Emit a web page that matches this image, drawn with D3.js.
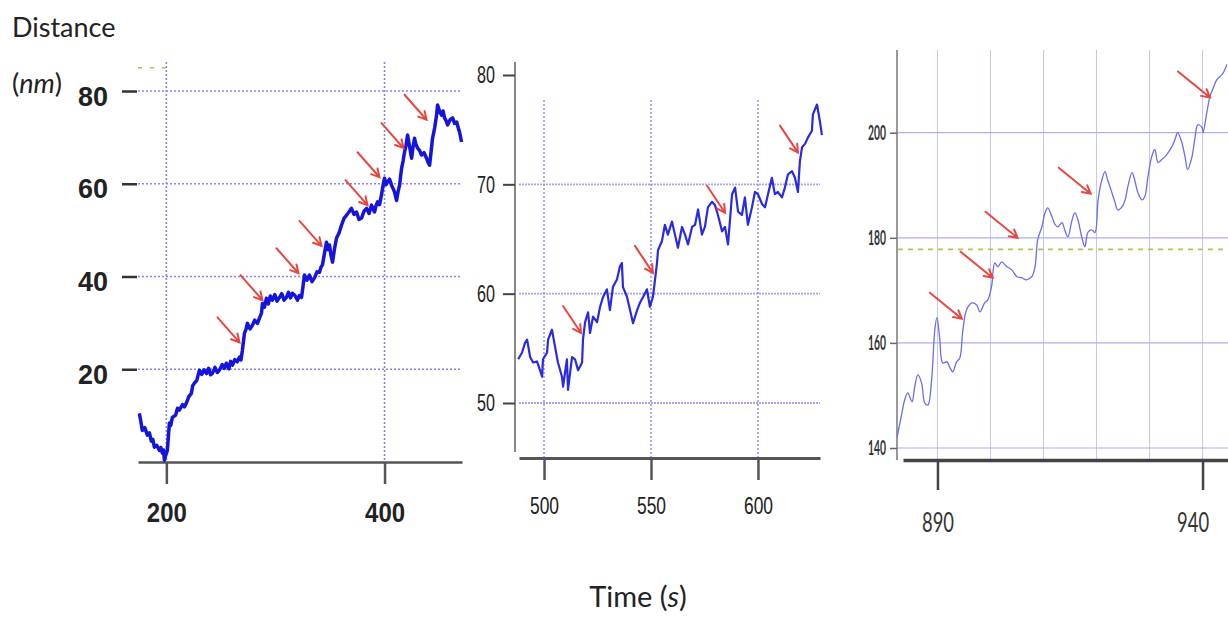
<!DOCTYPE html>
<html>
<head>
<meta charset="utf-8">
<script src="https://cdn.jsdelivr.net/npm/d3@7"></script>
<style>
  body { margin: 0; background: #fff; }
  svg { display: block; }
</style>
</head>
<body>
<svg id="chart" width="1228" height="617"></svg>
<script>
// trace 1: [time (s), distance (nm)]
var trace1 = [
  [175.2,10.5],[176.5,8.9],[178.0,6.8],[180.2,7.4],[182.6,5.8],[184.5,6.3],[186.2,4.5],[187.6,4.9],
  [189.0,3.2],[191.2,3.6],[193.6,2.5],[195.0,3.1],[196.3,1.9],[197.4,2.6],[198.2,0.4],[199.6,1.6],
  [200.9,2.5],[202.8,8.4],[204.0,7.9],[205.5,9.6],[208.5,10.1],[210.2,11.6],[211.9,11.2],[214.8,12.4],
  [216.5,11.9],[218.3,12.7],[220.6,14.1],[222.9,14.8],[224.1,16.4],[225.7,17.0],[227.9,17.6],[230.3,19.8],
  [232.4,18.9],[234.6,19.9],[236.7,19.1],[238.8,20.2],[240.5,18.8],[242.2,19.1],[244.6,20.4],[246.7,19.3],
  [248.6,19.8],[251.2,21.0],[253.1,20.2],[255.0,21.3],[257.3,20.1],[258.9,21.7],[260.6,20.9],[262.8,22.1],
  [265.0,21.6],[267.0,22.6],[268.4,22.0],[269.7,24.1],[271.6,27.8],[273.0,28.6],[274.3,29.9],[276.6,28.7],
  [278.9,29.5],[281.0,30.6],[283.5,29.9],[285.6,31.2],[287.2,32.1],[288.1,34.2],[289.9,33.4],[291.7,35.3],
  [293.5,34.1],[295.3,35.8],[297.2,34.9],[299.4,36.1],[301.5,34.7],[303.7,35.5],[305.8,36.3],[307.9,34.9],
  [310.1,35.5],[312.0,36.6],[313.8,35.4],[315.6,36.4],[317.9,35.9],[320.2,34.9],[322.0,35.9],[323.9,35.5],
  [325.2,37.8],[326.6,40.3],[328.9,39.2],[331.2,40.3],[333.5,38.9],[335.8,39.7],[338.1,41.0],[340.4,40.9],
  [341.7,42.0],[343.1,42.5],[345.0,45.1],[346.8,47.4],[348.2,45.8],[349.5,46.8],[350.9,44.6],[352.3,43.1],
  [354.2,46.1],[356.0,48.3],[358.3,49.4],[360.6,51.1],[362.9,52.6],[365.1,53.2],[367.4,53.9],[369.7,54.7],
  [372.0,53.4],[374.3,53.9],[376.6,52.3],[378.9,52.6],[381.2,54.1],[383.5,54.7],[385.8,53.6],[388.1,55.4],
  [389.4,54.6],[390.8,53.9],[392.2,55.3],[393.6,56.1],[395.4,55.5],[397.2,57.6],[398.6,59.6],[400.0,61.2],
  [401.4,59.8],[402.8,60.4],[404.6,61.0],[406.4,59.7],[407.8,59.0],[409.2,58.2],[410.1,57.3],[411.0,56.4],
  [412.4,58.3],[413.8,59.7],[414.7,61.6],[415.6,63.3],[417.0,64.9],[418.3,66.8],[419.7,68.3],[421.1,70.5],
  [422.9,68.1],[424.8,65.5],[426.1,67.9],[427.5,69.8],[428.9,68.4],[430.3,67.7],[432.1,67.2],[433.9,66.2],
  [436.2,66.7],[438.5,65.5],[439.9,64.6],[441.3,64.0],[442.6,66.8],[444.0,69.8],[445.9,72.0],[447.7,74.8],
  [448.6,77.0],[450.5,75.6],[452.3,74.8],[453.6,75.7],[455.0,74.2],[456.4,73.6],[457.8,72.7],[460.1,73.8],
  [462.4,74.2],[464.2,73.0],[466.1,73.3],[467.4,72.2],[468.8,71.1],[470.6,69.0]
];
var steps1 = [[267.0,25.8],[288.1,34.9],[321.1,40.7],[342.2,46.6],[384.4,55.4],[395.4,61.4],[417.4,67.7],[438.5,73.8]];
var xTicks1 = [200, 400];
var yTicks1 = [20, 40, 60, 80];

// trace 2
var trace2 = [
  [487.9,54.0],[489.7,54.6],[491.1,55.5],[492.1,55.8],[493.5,54.2],[494.9,53.7],[496.7,53.8],[498.1,53.0],
  [499.1,52.4],[499.5,54.0],[501.4,54.6],[501.9,55.8],[503.7,56.7],[505.1,55.2],[506.5,53.7],[508.4,52.4],
  [508.9,51.5],[510.7,54.0],[511.2,51.2],[513.1,54.2],[514.5,54.0],[515.9,53.0],[517.8,53.7],[518.2,55.8],
  [519.2,57.4],[520.6,58.3],[521.5,56.4],[522.9,57.9],[524.8,57.4],[526.2,58.8],[527.6,59.7],[529.4,60.4],
  [530.8,58.5],[532.2,60.6],[534.1,61.3],[535.5,62.5],[536.4,62.8],[536.9,60.6],[538.8,59.7],[540.2,58.5],
  [541.6,57.3],[543.5,58.5],[544.9,59.2],[546.3,59.7],[548.1,60.4],[549.5,58.8],[550.9,59.7],[551.9,61.3],
  [552.8,62.8],[553.3,64.0],[555.1,64.8],[556.5,66.3],[557.9,65.4],[559.8,66.6],[561.2,65.4],[562.6,64.2],
  [564.5,66.1],[565.9,65.4],[567.3,64.5],[569.2,66.1],[570.6,66.3],[572.0,67.7],[573.8,65.4],[575.2,66.1],
  [576.6,67.9],[578.5,68.4],[579.9,68.1],[581.3,67.2],[583.2,65.7],[584.6,66.1],[586.0,64.5],[587.9,69.1],
  [589.3,69.7],[590.7,67.5],[592.5,67.2],[593.9,68.8],[595.3,66.3],[597.2,67.9],[598.6,69.3],[600.0,69.1],
  [601.9,68.2],[603.3,67.9],[604.7,69.1],[606.5,70.6],[607.9,69.1],[609.3,69.3],[611.2,68.8],[612.6,69.7],
  [614.0,70.9],[615.9,71.2],[617.3,70.6],[618.7,69.3],[619.6,72.1],[620.6,73.4],[622.0,73.7],[623.4,74.3],
  [625.2,74.9],[625.7,76.4],[627.6,77.3],[629.0,75.7],[629.9,74.5]
];
var steps2 = [[517.3,56.4],[550.9,61.9],[584.6,67.4],[618.7,72.9]];
var xTicks2 = [500, 550, 600];
var yTicks2 = [50, 60, 70, 80];

// trace 3
var trace3 = [
  [882.4,142.1],[883.3,146.7],[883.8,149.1],[884.4,150.5],[885.2,148.8],[885.7,151.6],[886.3,153.9],[887.0,152.4],
  [887.6,148.6],[888.2,148.2],[888.9,153.0],[889.5,162.5],[889.9,164.8],[890.4,161.1],[891.0,156.2],[891.8,156.4],
  [892.3,155.4],[892.9,154.5],[893.6,156.4],[894.2,157.1],[894.8,162.5],[895.5,166.3],[896.5,167.6],[897.4,167.2],
  [898.0,165.9],[898.9,167.6],[899.5,168.2],[900.2,170.7],[900.8,175.2],[901.4,174.5],[902.1,175.4],[903.1,174.5],
  [904.0,173.9],[905.0,172.6],[905.9,172.4],[906.8,172.0],[907.8,172.6],[908.4,174.5],[908.9,179.6],[909.7,182.1],
  [910.3,184.8],[910.8,185.7],[911.6,184.0],[912.2,182.5],[912.7,182.1],[913.5,182.9],[914.0,181.5],[914.6,180.2],
  [915.3,183.0],[915.9,184.8],[916.5,183.4],[917.2,180.2],[917.8,178.3],[918.4,181.1],[919.1,181.5],[919.7,181.0],
  [920.3,187.2],[921.0,191.0],[921.6,192.6],[922.1,191.0],[922.9,188.6],[923.5,186.7],[924.0,185.3],[924.8,185.9],
  [925.4,187.2],[925.9,189.7],[926.7,192.4],[927.2,191.0],[927.8,188.6],[928.6,187.2],[929.1,187.8],[929.7,191.6],
  [930.4,195.4],[931.0,196.8],[931.6,194.3],[932.3,194.9],[932.9,195.4],[933.5,196.2],[934.2,197.3],[934.8,198.7],
  [935.3,200.0],[936.1,198.1],[936.7,195.4],[937.2,193.0],[938.0,195.4],[938.6,199.2],[939.1,201.5],[939.9,201.0],
  [940.1,200.0],[940.8,203.8],[941.4,206.9],[941.9,208.2],[942.7,210.1],[943.3,210.7],[943.9,211.4],[944.6,213.0]
];
var steps3 = [[894.6,164.6],[900.4,172.4],[905.1,180.0],[918.9,188.4],[941.4,206.7]];
var xTicks3 = [890, 940];
var xGrid3 = [890, 900, 910, 920, 930, 940];
var yTicks3 = [140, 160, 180, 200];
var baseline3 = 177.8;

var svg = d3.select("#chart");

// scales
var x1 = d3.scaleLinear().domain([174, 471]).range([138, 462]);
var y1 = d3.scaleLinear().domain([0, 80]).range([462, 91]);
var x2 = d3.scaleLinear().domain([488.3, 629]).range([519, 820]);
var y2 = d3.scaleLinear().domain([50, 80]).range([403, 75]);
var x3 = d3.scaleLinear().domain([883.5, 944.8]).range([903, 1228]);
var y3 = d3.scaleLinear().domain([140, 200]).range([448, 132.7]);

function drawArrows(g, steps, x, y, dx, dy) {
  steps.forEach(function(s) {
    var tx = x(s[0]), ty = y(s[1]);
    var a = Math.atan2(dy, dx);
    var p = "M" + (tx - dx) + "," + (ty - dy) + "L" + tx + "," + ty +
      "M" + (tx - 9 * Math.cos(a - 0.5)) + "," + (ty - 9 * Math.sin(a - 0.5)) +
      "L" + tx + "," + ty +
      "L" + (tx - 9 * Math.cos(a + 0.5)) + "," + (ty - 9 * Math.sin(a + 0.5));
    g.append("path").attr("d", p)
      .attr("fill", "none").attr("stroke", "#e8473f")
      .attr("stroke-width", 2).attr("stroke-linecap", "round");
  });
}

// ---------- panel 1 ----------
var p1 = svg.append("g");
p1.selectAll(".hg").data(yTicks1).enter().append("line")
  .attr("x1", 138).attr("x2", 462)
  .attr("y1", function(d) { return y1(d); }).attr("y2", function(d) { return y1(d); })
  .attr("stroke", "#8585f0").attr("stroke-width", 1.6).attr("stroke-dasharray", "2,2");
p1.selectAll(".vg").data(xTicks1).enter().append("line")
  .attr("x1", function(d) { return x1(d); }).attr("x2", function(d) { return x1(d); })
  .attr("y1", 62).attr("y2", 462)
  .attr("stroke", "#8585f0").attr("stroke-width", 1.6).attr("stroke-dasharray", "2,2");
p1.append("line")
  .attr("x1", x1(174)).attr("x2", x1(200)).attr("y1", y1(85)).attr("y2", y1(85))
  .attr("stroke", "#b5c24a").attr("stroke-width", 1.5).attr("stroke-dasharray", "4,8");

var ax1 = p1.append("g").attr("transform", "translate(0,462)")
  .call(d3.axisBottom(x1).tickValues(xTicks1).tickSize(22).tickSizeOuter(0).tickPadding(18));
ax1.select(".domain").attr("stroke", "#555").attr("stroke-width", 2.5);
ax1.selectAll(".tick line").attr("stroke", "#555").attr("stroke-width", 2.5);
ax1.selectAll(".tick text").attr("font-family", "Liberation Sans, Arial, sans-serif")
  .attr("font-size", 28).attr("font-weight", "bold").attr("fill", "#222")
  .attr("textLength", 40).attr("lengthAdjust", "spacingAndGlyphs");

var ay1 = p1.append("g").attr("transform", "translate(137,0)")
  .call(d3.axisLeft(y1).tickValues(yTicks1).tickSize(15).tickPadding(14));
ay1.select(".domain").remove();
ay1.selectAll(".tick line").attr("stroke", "#333").attr("stroke-width", 2.5);
ay1.selectAll(".tick text").attr("font-family", "Liberation Sans, Arial, sans-serif")
  .attr("font-size", 28).attr("font-weight", "bold").attr("fill", "#222").attr("dy", "0.5em")
  .attr("textLength", 30).attr("lengthAdjust", "spacingAndGlyphs");

p1.append("path").datum(trace1)
  .attr("fill", "none").attr("stroke", "#1414dc").attr("stroke-width", 3.5).attr("stroke-linejoin", "round")
  .attr("d", d3.line().x(function(d) { return x1(d[0]); }).y(function(d) { return y1(d[1]); }));
drawArrows(p1, steps1, x1, y1, 22, 25);

// ---------- panel 2 ----------
var p2 = svg.append("g");
p2.selectAll(".hg").data(yTicks2.filter(function(d) { return d < 80; })).enter().append("line")
  .attr("x1", 519).attr("x2", 820)
  .attr("y1", function(d) { return y2(d); }).attr("y2", function(d) { return y2(d); })
  .attr("stroke", "#a5a5f2").attr("stroke-width", 1.8).attr("stroke-dasharray", "2,1");
p2.selectAll(".vg").data(xTicks2).enter().append("line")
  .attr("x1", function(d) { return x2(d); }).attr("x2", function(d) { return x2(d); })
  .attr("y1", 100).attr("y2", 458)
  .attr("stroke", "#8f8fee").attr("stroke-width", 1.5).attr("stroke-dasharray", "2,2");

p2.append("line").attr("x1", 515).attr("x2", 515).attr("y1", 62).attr("y2", 452)
  .attr("stroke", "#888").attr("stroke-width", 2);
var ax2 = p2.append("g").attr("transform", "translate(0,458)")
  .call(d3.axisBottom(x2).tickValues(xTicks2).tickSize(22).tickSizeOuter(0).tickPadding(17));
ax2.select(".domain").attr("stroke", "#555").attr("stroke-width", 3);
ax2.selectAll(".tick line").attr("stroke", "#555").attr("stroke-width", 2.5);
ax2.selectAll(".tick text").attr("font-family", "Liberation Sans, Arial, sans-serif")
  .attr("font-size", 24).attr("fill", "#222")
  .attr("textLength", 29).attr("lengthAdjust", "spacingAndGlyphs");

var ay2 = p2.append("g").attr("transform", "translate(515,0)")
  .call(d3.axisLeft(y2).tickValues(yTicks2).tickSize(12).tickPadding(8));
ay2.select(".domain").remove();
ay2.selectAll(".tick line").attr("stroke", "#444").attr("stroke-width", 2);
ay2.selectAll(".tick text").attr("font-family", "Liberation Sans, Arial, sans-serif")
  .attr("font-size", 24).attr("fill", "#222")
  .attr("textLength", 18).attr("lengthAdjust", "spacingAndGlyphs");

p2.append("path").datum(trace2)
  .attr("fill", "none").attr("stroke", "#2a2ae2").attr("stroke-width", 2.2).attr("stroke-linejoin", "round")
  .attr("d", d3.line().x(function(d) { return x2(d[0]); }).y(function(d) { return y2(d[1]); }));
drawArrows(p2, steps2, x2, y2, 18, 27);

// ---------- panel 3 ----------
var p3 = svg.append("g");
p3.selectAll(".vg").data(xGrid3).enter().append("line")
  .attr("x1", function(d) { return x3(d); }).attr("x2", function(d) { return x3(d); })
  .attr("y1", 50).attr("y2", 460)
  .attr("stroke", "#c6c6f2").attr("stroke-width", 1);
p3.selectAll(".hg").data(yTicks3).enter().append("line")
  .attr("x1", 898).attr("x2", 1228)
  .attr("y1", function(d) { return y3(d); }).attr("y2", function(d) { return y3(d); })
  .attr("stroke", "#aeaef2").attr("stroke-width", 1.2);
p3.append("line")
  .attr("x1", 898).attr("x2", 1228).attr("y1", y3(baseline3)).attr("y2", y3(baseline3))
  .attr("stroke", "#b9c24c").attr("stroke-width", 1.6).attr("stroke-dasharray", "5,5");

p3.append("line").attr("x1", 897).attr("x2", 897).attr("y1", 50).attr("y2", 460)
  .attr("stroke", "#999").attr("stroke-width", 2);
var ax3 = p3.append("g").attr("transform", "translate(0,460)")
  .call(d3.axisBottom(x3).tickValues(xTicks3).tickSize(30).tickSizeOuter(0).tickPadding(23));
ax3.select(".domain").attr("stroke", "#444").attr("stroke-width", 3.5);
ax3.selectAll(".tick line").attr("stroke", "#444").attr("stroke-width", 2.5);
ax3.selectAll(".tick text").attr("font-family", "Lato, sans-serif")
  .attr("font-size", 27).attr("fill", "#333")
  .attr("dx", function(d) { return d === 940 ? -10 : 0; })
  .attr("textLength", 32).attr("lengthAdjust", "spacingAndGlyphs");

var ay3 = p3.append("g").attr("transform", "translate(897,0)")
  .call(d3.axisLeft(y3).tickValues(yTicks3).tickSize(7).tickPadding(4));
ay3.select(".domain").remove();
ay3.selectAll(".tick line").attr("stroke", "#666").attr("stroke-width", 1.5);
ay3.selectAll(".tick text").attr("font-family", "Lato, sans-serif")
  .attr("font-size", 20).attr("font-weight", "bold").attr("fill", "#333")
  .attr("textLength", 18).attr("lengthAdjust", "spacingAndGlyphs");

p3.append("path").datum(trace3)
  .attr("fill", "none").attr("stroke", "#6c6cf0").attr("stroke-width", 1.3).attr("stroke-linejoin", "round")
  .attr("d", d3.line().curve(d3.curveCatmullRom).x(function(d) { return x3(d[0]); }).y(function(d) { return y3(d[1]); }));
drawArrows(p3, steps3, x3, y3, 32, 26);

// ---------- titles ----------
svg.append("text").attr("x", 12).attr("y", 37)
  .attr("font-family", "Lato, sans-serif").attr("font-size", 27).attr("fill", "#222")
  .text("Distance");
var nm = svg.append("text").attr("x", 12).attr("y", 93)
  .attr("font-family", "Lato, sans-serif").attr("font-size", 27).attr("fill", "#222");
nm.append("tspan").text("(");
nm.append("tspan").attr("font-style", "italic").text("nm");
nm.append("tspan").text(")");

var tl = svg.append("text").attr("x", 638).attr("y", 607).attr("text-anchor", "middle")
  .attr("font-family", "Lato, sans-serif").attr("font-size", 29).attr("fill", "#222");
tl.append("tspan").text("Time (");
tl.append("tspan").attr("font-style", "italic").text("s");
tl.append("tspan").text(")");
</script>
</body>
</html>
